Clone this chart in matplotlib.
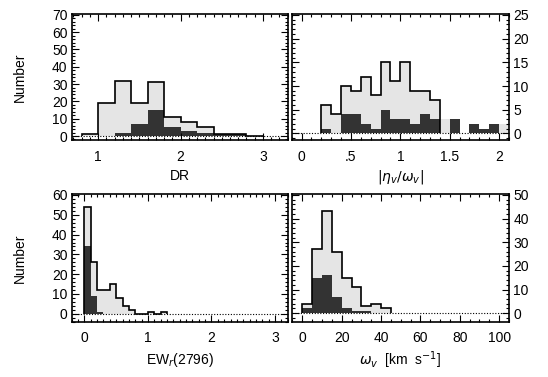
import numpy as np
import matplotlib
matplotlib.use("Agg")
import matplotlib.pyplot as plt
from matplotlib.ticker import MultipleLocator

plt.rcParams['font.family'] = ['Liberation Sans', 'DejaVu Sans']
plt.rcParams['font.size'] = 10
plt.rcParams['mathtext.fontset'] = 'dejavusans'

# DR histogram (bins of 0.2 from 0.8)
dr_edges = np.arange(0.8, 3.01, 0.2)
dr_all = [1, 19, 32, 19, 31, 11, 8, 5, 1, 1, 0]
dr_sub = [0, 0, 2, 7, 15, 5, 3, 2, 1, 1, 0]

# |eta/omega| histogram (bins of 0.1 from 0.2)
eta_edges = np.arange(0.2, 2.11, 0.1)
eta_all = [6, 4, 10, 9, 12, 8, 15, 11, 15, 9, 9, 7, 3, 3, 0, 2, 1, 2, 2]
eta_sub = [1, 0, 4, 4, 2, 1, 5, 3, 3, 2, 4, 3, 0, 3, 0, 2, 1, 2, 0]
eta_outline_bins = 12

# EW_r(2796) histogram (bins of 0.1 from 0)
ew_edges = np.arange(0.0, 1.31, 0.1)
ew_all = [54, 26, 12, 12, 15, 8, 4, 2, 0, 0, 1, 0, 1]
ew_sub = [34, 9, 1, 0, 0, 0, 0, 0, 0, 0, 0, 0, 0]

# omega_v histogram (bins of 5 km/s)
om_edges = np.arange(0, 46, 5)
om_all = [4, 27, 43, 26, 15, 11, 3, 4, 2]
om_sub = [2, 15, 16, 7, 2, 1, 1, 0, 0]

eta_ticks = [0, 0.5, 1, 1.5, 2]
eta_ticklabels = ['0', '.5', '1', '1.5', '2']

light = '#e5e5e5'
dark = '#333333'

fig = plt.figure(figsize=(5.48, 3.77), dpi=100)
W, H = 548, 377


def make_ax(x0, y0, x1, y1):
    return fig.add_axes([x0 / W, 1 - y1 / H, (x1 - x0) / W, (y1 - y0) / H])


ax1 = make_ax(71.7, 14, 287.7, 140)
ax2 = make_ax(291.7, 14, 509, 140)
ax3 = make_ax(71.7, 194, 287.7, 321.7)
ax4 = make_ax(291.7, 194, 509, 321.7)


def draw(ax, edges, allv, subv, nout=None):
    allv = np.asarray(allv)
    ax.stairs(allv, edges, fill=True, color=light, lw=0)
    ax.stairs(subv, edges, fill=True, color=dark, lw=0)
    if nout is None:
        nout = len(allv)
    ax.stairs(allv[:nout], edges[:nout + 1], color='black', lw=1.2,
              baseline=0)
    ax.axhline(0, color='black', lw=0.8, ls=(0, (1, 1.5)))


draw(ax1, dr_edges, dr_all, dr_sub)
draw(ax2, eta_edges, eta_all, eta_sub, eta_outline_bins)
draw(ax3, ew_edges, ew_all, ew_sub)
draw(ax4, om_edges, om_all, om_sub)

ax1.set_xlim(0.68, 3.3)
ax1.set_ylim(-2.3, 70.5)
ax1.xaxis.set_major_locator(MultipleLocator(1))
ax1.xaxis.set_minor_locator(MultipleLocator(0.1))
ax1.yaxis.set_major_locator(MultipleLocator(10))
ax1.yaxis.set_minor_locator(MultipleLocator(2))

ax2.set_xlim(-0.1, 2.1)
ax2.set_ylim(-1.4, 25.2)
ax2.set_xticks(eta_ticks)
ax2.set_xticklabels(eta_ticklabels)
ax2.xaxis.set_minor_locator(MultipleLocator(0.1))
ax2.yaxis.set_major_locator(MultipleLocator(5))
ax2.yaxis.set_minor_locator(MultipleLocator(1))

ax3.set_xlim(-0.2, 3.2)
ax3.set_ylim(-4, 60.5)
ax3.xaxis.set_major_locator(MultipleLocator(1))
ax3.xaxis.set_minor_locator(MultipleLocator(0.1))
ax3.yaxis.set_major_locator(MultipleLocator(10))
ax3.yaxis.set_minor_locator(MultipleLocator(2))

ax4.set_xlim(-5.4, 105)
ax4.set_ylim(-3.6, 50.4)
ax4.xaxis.set_major_locator(MultipleLocator(20))
ax4.xaxis.set_minor_locator(MultipleLocator(5))
ax4.yaxis.set_major_locator(MultipleLocator(10))
ax4.yaxis.set_minor_locator(MultipleLocator(2))

for ax in (ax1, ax2, ax3, ax4):
    for s in ax.spines.values():
        s.set_linewidth(1.2)
    ax.tick_params(which='both', direction='in', top=True, right=True,
                   width=0.8, color='black')
    ax.tick_params(which='major', length=5)
    ax.tick_params(which='minor', length=2.5)
    ax.tick_params(axis='x', which='major', pad=7)
    ax.tick_params(axis='y', which='major', pad=3)

for ax in (ax2, ax4):
    ax.yaxis.tick_right()
    ax.yaxis.set_ticks_position('both')
    ax.tick_params(axis='y', which='both', labelleft=False, labelright=True)

ax1.set_ylabel('Number', labelpad=18)
ax3.set_ylabel('Number', labelpad=18)
ax1.set_xlabel('DR', labelpad=4)
ax2.set_xlabel(r'$|\eta_{v}/\omega_{v}|$', labelpad=3)
ax3.set_xlabel(r'EW$_r$(2796)', labelpad=4)
ax4.set_xlabel(r'$\omega_v$  [km  s$^{-1}$]', labelpad=3)

fig.savefig('out.png', dpi=100)
